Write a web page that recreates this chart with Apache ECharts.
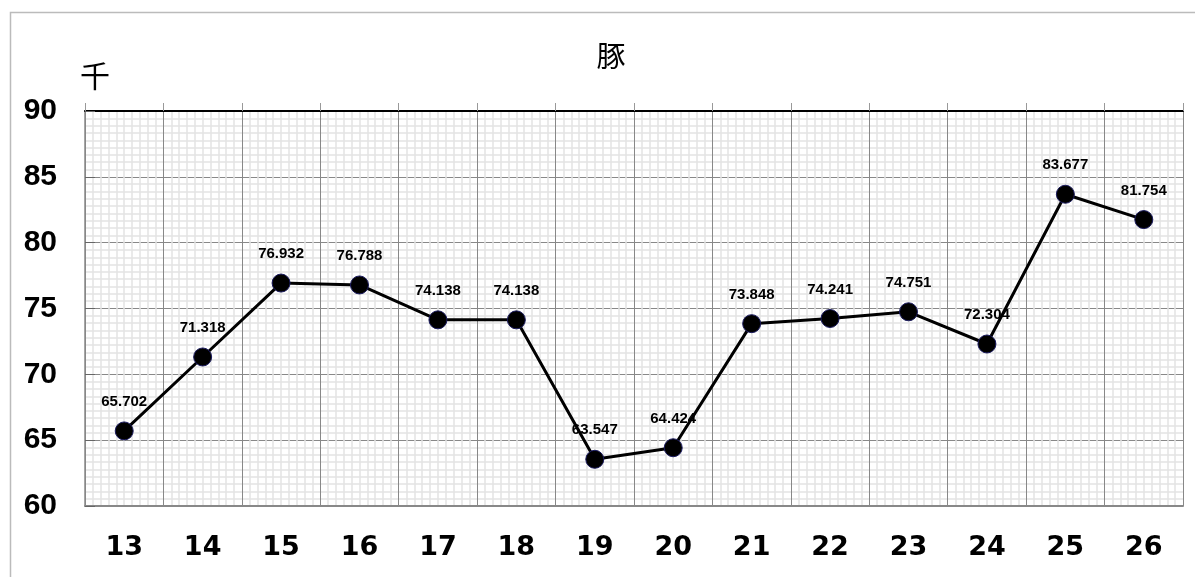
<!DOCTYPE html>
<html>
<head>
<meta charset="utf-8">
<script src="https://cdn.jsdelivr.net/npm/echarts@6/dist/echarts.min.js"></script>
<style>html,body{margin:0;padding:0;background:#fff}#c{width:1195px;height:577px}</style>
</head>
<body>
<div id="c"></div>
<script>
var categories = ['13','14','15','16','17','18','19','20','21','22','23','24','25','26'];
var values = [65.702, 71.318, 76.932, 76.788, 74.138, 74.138, 63.547, 64.424, 73.848, 74.241, 74.751, 72.304, 83.677, 81.754];
var titleText = '豚';
var unitText = '千';
var yMin = 60, yMax = 90, yStep = 5;

var chart = echarts.init(document.getElementById('c'));
var font = "'Liberation Sans', Arial, sans-serif";
chart.setOption({
  animation: false,
  backgroundColor: '#fff',
  title: {
    text: titleText,
    left: 606, top: 36, textAlign: 'center',
    textStyle: { fontSize: 29, fontWeight: 'normal', color: '#000', fontFamily: "'Noto Sans CJK JP', sans-serif" }
  },
  graphic: [{
    type: 'rect', left: 8, top: 10, silent: true, z: -10,
    shape: { width: 1200, height: 580 },
    style: { fill: 'none', stroke: '#bbbbbb', lineWidth: 1.5 }
  }],
  grid: { left: 85, top: 111, width: 1098, height: 395, show: false },
  xAxis: [{
    type: 'category',
    data: categories,
    boundaryGap: true,
    position: 'bottom',
    axisLine: { show: true, lineStyle: { color: '#888', width: 2 } },
    axisTick: { show: false },
    splitLine: { show: false },
    axisLabel: { margin: 28, fontSize: 27, fontFamily: "'DejaVu Sans', sans-serif", fontWeight: 'bold', color: '#000' }
  }, {
    type: 'value',
    min: 0, max: categories.length, interval: 1,
    position: 'top',
    axisLine: { show: true, lineStyle: { color: '#000', width: 2 } },
    axisTick: { show: true, inside: false, length: 8, lineStyle: { color: '#999' } },
    axisLabel: { show: false },
    splitLine: { show: true, lineStyle: { color: '#888', width: 1 } },
    minorTick: { show: false, splitNumber: 10 },
    minorSplitLine: { show: true, lineStyle: { color: '#e4e4e4', width: 1.5 } }
  }],
  yAxis: {
    type: 'value',
    min: yMin, max: yMax, interval: yStep,
    name: unitText,
    nameLocation: 'end',
    nameGap: 20,
    nameTextStyle: { fontSize: 30, color: '#000', fontFamily: "'Noto Sans CJK JP', sans-serif", align: 'center', padding: [0, 0, 0, 20] },
    axisLine: { show: true, lineStyle: { color: '#888', width: 1.5 } },
    axisTick: { show: true, inside: true, length: 10, lineStyle: { color: '#666' } },
    axisLabel: { margin: 28, fontSize: 30, fontFamily: font, fontWeight: 'bold', color: '#000' },
    splitLine: { show: true, lineStyle: { color: '#888', width: 1 } },
    minorTick: { show: false, splitNumber: 9 },
    minorSplitLine: { show: true, lineStyle: { color: '#e4e4e4', width: 1.5 } }
  },
  series: [{
    type: 'line',
    xAxisIndex: 0,
    data: values,
    symbol: 'circle',
    symbolSize: 18,
    lineStyle: { color: '#000', width: 3 },
    itemStyle: { color: '#000', borderColor: '#1a1a5e', borderWidth: 1 },
    label: {
      show: true, position: 'top', distance: 12,
      fontSize: 15, fontWeight: 'bold', fontFamily: font, color: '#000',
      formatter: function (p) { return p.value.toFixed(3); }
    },
    z: 5
  }]
});
</script>
</body>
</html>
